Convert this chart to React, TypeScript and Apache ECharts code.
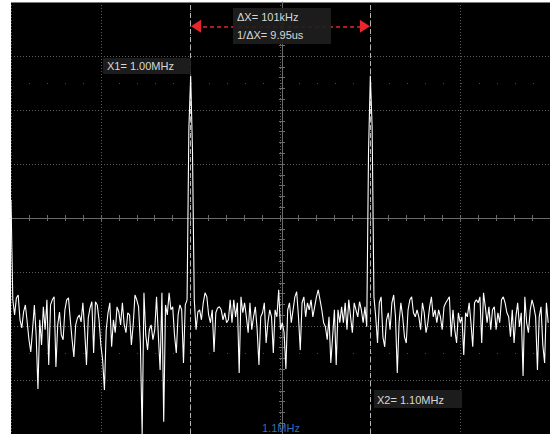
import React, { useEffect, useRef } from "react";
import * as echarts from "echarts";

// Frequency axis (kHz) and spectrum level (dBV), one sample per kHz
const START_KHZ = 900;
const STEP_KHZ = 1;
const X_MIN = 900;
const X_MAX = 1200;
const X_DIV = 50;
const Y_MIN = -120;
const Y_MAX = 40;
const Y_DIV = 20;

const div1 = [
  -33.2, -70.3, -75.9, -69.6, -68.5, -77.7, -80.7, -74.8, -72.2, -78.5,
  -85.1, -89.6, -81.4, -72.2, -83.3, -103.3, -77.7, -87.0, -72.9, -81.4,
  -70.3, -94.4, -72.2, -70.3, -69.2, -95.2, -79.6, -74.8, -83.3, -85.1,
  -74.0, -70.3, -69.6, -77.7, -85.1, -91.5, -79.6, -77.0, -75.9, -78.5,
  -71.4, -81.4, -94.4, -77.0, -73.3, -71.0, -90.0, -71.0, -72.2, -77.7,
];
const div2 = [
  -87.0, -92.6, -103.7, -81.4, -75.1, -71.4, -87.7, -77.7, -82.5, -72.9,
  -74.8, -79.6, -71.4, -79.6, -82.5, -75.1, -75.9, -87.0, -79.6, -68.5,
  -70.3, -72.9, -86.3, -120.0, -67.7, -83.3, -88.9, -81.4, -79.6, -85.1,
  -81.4, -69.2, -83.3, -96.3, -67.7, -115.5, -72.2, -75.9, -67.7, -74.0,
  -72.9, -83.3, -90.0, -75.9, -72.2, -74.0, -93.7, -72.2, -70.3, -6.9,
];
const div3 = [
  12.7, -14.7, -70.3, -81.4, -74.8, -74.0, -77.7, -71.4, -67.7, -69.2,
  -75.9, -78.8, -74.0, -89.6, -75.1, -73.3, -72.9, -74.0, -77.7, -75.1,
  -78.8, -77.7, -70.3, -78.8, -70.3, -76.6, -71.4, -97.4, -69.2, -75.1,
  -71.4, -76.6, -82.5, -71.4, -81.4, -76.6, -72.9, -81.4, -94.4, -76.6,
  -75.1, -71.4, -86.3, -78.8, -74.0, -76.6, -90.0, -74.0, -76.6, -66.6,
];
const div4 = [
  -81.4, -78.8, -82.5, -95.9, -74.0, -71.4, -78.8, -74.0, -69.2, -67.3,
  -76.6, -88.9, -71.4, -69.2, -76.6, -71.4, -74.0, -70.3, -76.6, -72.9,
  -69.2, -66.6, -70.3, -74.0, -78.8, -80.3, -85.1, -76.6, -93.7, -84.0,
  -74.0, -94.4, -74.0, -78.8, -72.9, -78.8, -71.4, -81.4, -70.3, -76.6,
  -82.5, -71.4, -74.0, -76.6, -71.0, -74.0, -78.8, -72.9, -80.3, -15.4,
];
const div5 = [
  12.7, -6.2, -69.2, -76.6, -86.3, -71.4, -69.2, -84.0, -87.7, -77.7,
  -75.1, -81.4, -71.4, -68.5, -76.6, -97.4, -78.8, -71.4, -76.6, -84.0,
  -86.3, -74.0, -70.3, -69.2, -75.1, -76.6, -74.0, -76.6, -81.4, -71.4,
  -75.1, -82.5, -78.8, -72.9, -69.2, -76.6, -74.0, -78.8, -74.0, -76.6,
  -81.4, -72.9, -71.4, -70.3, -69.2, -84.0, -74.0, -81.4, -86.3, -75.1,
];
const div6 = [
  -78.8, -76.6, -90.7, -75.1, -76.6, -71.4, -78.8, -87.7, -71.4, -70.3,
  -71.4, -69.2, -86.3, -67.7, -72.9, -78.8, -72.9, -81.4, -74.0, -72.9,
  -81.4, -75.1, -78.8, -70.3, -69.2, -71.4, -75.1, -76.6, -84.0, -74.0,
  -86.3, -76.6, -71.4, -80.3, -75.1, -98.5, -69.2, -78.8, -82.5, -74.0,
  -70.3, -72.9, -76.6, -96.3, -76.6, -72.9, -87.0, -93.7, -71.4, -78.8,
];

const levels = [...div1, ...div2, ...div3, ...div4, ...div5, ...div6];

// Cursors
const X1_KHZ = 1000;
const X2_KHZ = 1100;
const ARROW_LEVEL = 31;
const MARKER_LEVELS = [10, -90];

const X1_TEXT = "X1= 1.00MHz";
const X2_TEXT = "X2= 1.10MHz";
const DX_TEXT = "ΔX= 101kHz";
const INV_DX_TEXT = "1/ΔX= 9.95us";
const CENTER_TEXT = "1.1MHz";

const FONT = '"Liberation Sans", Arial, sans-serif';

export default function App() {
  const ref = useRef<HTMLDivElement>(null);

  useEffect(() => {
    if (!ref.current) return;
    const chart = echarts.init(ref.current, undefined, { renderer: "svg" });

    const data = levels.map((v, i) => [START_KHZ + i * STEP_KHZ, v]);
    const dotted = { color: "#5e5e5e", type: [1, 2] as any, width: 1 };
    const hidden = { show: false };

    const centerX = (inside: boolean, line: boolean) => ({
      type: "value",
      min: X_MIN,
      max: X_MAX,
      interval: 10,
      position: "bottom",
      offset: -216,
      axisLine: { show: line, lineStyle: { color: "#6a6a6a", width: 1 } },
      axisTick: { show: true, inside, length: 3, lineStyle: { color: "#6a6a6a" } },
      axisLabel: hidden,
      splitLine: hidden,
    });
    const centerY = (inside: boolean, line: boolean) => ({
      type: "value",
      min: Y_MIN,
      max: Y_MAX,
      interval: 4,
      position: "left",
      offset: -271,
      axisLine: { show: line, lineStyle: { color: "#6a6a6a", width: 1 } },
      axisTick: { show: true, inside, length: 3, lineStyle: { color: "#6a6a6a" } },
      axisLabel: hidden,
      splitLine: hidden,
    });

    const textStyle = (text: string, x: number, y: number, fill = "#d8d8d8", align = "left") => ({
      type: "text",
      z: 101,
      silent: true,
      style: {
        text,
        x,
        y,
        fill,
        fontSize: 11,
        fontFamily: FONT,
        align,
        verticalAlign: "middle",
      },
    });

    chart.setOption({
      animation: false,
      backgroundColor: "#ffffff",
      grid: {
        left: 11,
        top: 2,
        width: 540,
        height: 432,
        show: true,
        backgroundColor: "#000000",
        borderWidth: 0,
      },
      xAxis: [
        {
          type: "value",
          min: X_MIN,
          max: X_MAX,
          interval: X_DIV,
          axisLine: hidden,
          axisTick: hidden,
          axisLabel: hidden,
          splitLine: { show: true, lineStyle: dotted },
        },
        centerX(false, true),
        centerX(true, false),
      ],
      yAxis: [
        {
          type: "value",
          min: Y_MIN,
          max: Y_MAX,
          interval: Y_DIV,
          axisLine: hidden,
          axisTick: hidden,
          axisLabel: hidden,
          splitLine: { show: true, lineStyle: dotted },
        },
        centerY(false, true),
        centerY(true, false),
      ],
      series: [
        {
          type: "line",
          xAxisIndex: 0,
          yAxisIndex: 0,
          data: [],
          silent: true,
          markLine: {
            silent: true,
            symbol: "none",
            label: { show: false },
            lineStyle: { color: "#4a4a4a", type: [1, 17] as any, width: 1 },
            data: MARKER_LEVELS.map((v) => ({ yAxis: v })),
          },
        },
        {
          type: "line",
          xAxisIndex: 0,
          yAxisIndex: 0,
          data,
          symbol: "none",
          silent: true,
          z: 5,
          lineStyle: { color: "#ffffff", width: 1.1 },
          markLine: {
            silent: true,
            symbol: "none",
            label: { show: false },
            lineStyle: { color: "#b4b4b4", type: [5, 3] as any, width: 1 },
            data: [{ xAxis: X1_KHZ }, { xAxis: X2_KHZ }],
          },
        },
        {
          type: "line",
          xAxisIndex: 0,
          yAxisIndex: 0,
          data: [],
          silent: true,
          z: 6,
          markLine: {
            silent: true,
            symbol: ["triangle", "triangle"],
            symbolSize: [13, 10],
            label: { show: false },
            lineStyle: { color: "#e8262d", type: [4, 3] as any, width: 1.5 },
            itemStyle: { color: "#e8262d" },
            data: [
              [
                { coord: [X1_KHZ + 3, ARROW_LEVEL] },
                { coord: [X2_KHZ - 3, ARROW_LEVEL] },
              ],
            ],
          },
        },
      ],
      graphic: [
        {
          type: "line",
          z: 100,
          silent: true,
          shape: { x1: 11, y1: 2.5, x2: 550, y2: 2.5 },
          style: { stroke: "#7a7a7a", lineWidth: 1 },
        },
        {
          type: "rect",
          z: 100,
          silent: true,
          shape: { x: 233, y: 8, width: 98, height: 36 },
          style: { fill: "rgba(30,30,30,0.92)" },
        },
        textStyle(DX_TEXT, 237, 17),
        textStyle(INV_DX_TEXT, 237, 35),
        {
          type: "rect",
          z: 100,
          silent: true,
          shape: { x: 103, y: 58, width: 88, height: 16 },
          style: { fill: "rgba(30,30,30,0.92)" },
        },
        textStyle(X1_TEXT, 107, 66),
        {
          type: "rect",
          z: 100,
          silent: true,
          shape: { x: 374, y: 390, width: 88, height: 18 },
          style: { fill: "rgba(30,30,30,0.92)" },
        },
        textStyle(X2_TEXT, 377, 399.5),
        textStyle(CENTER_TEXT, 281, 428, "#2e6db5", "center"),
      ],
    });

    return () => chart.dispose();
  }, []);

  return (
    <div
      ref={ref}
      style={{ position: "fixed", left: 0, top: 0, width: 550, height: 434 }}
    />
  );
}
